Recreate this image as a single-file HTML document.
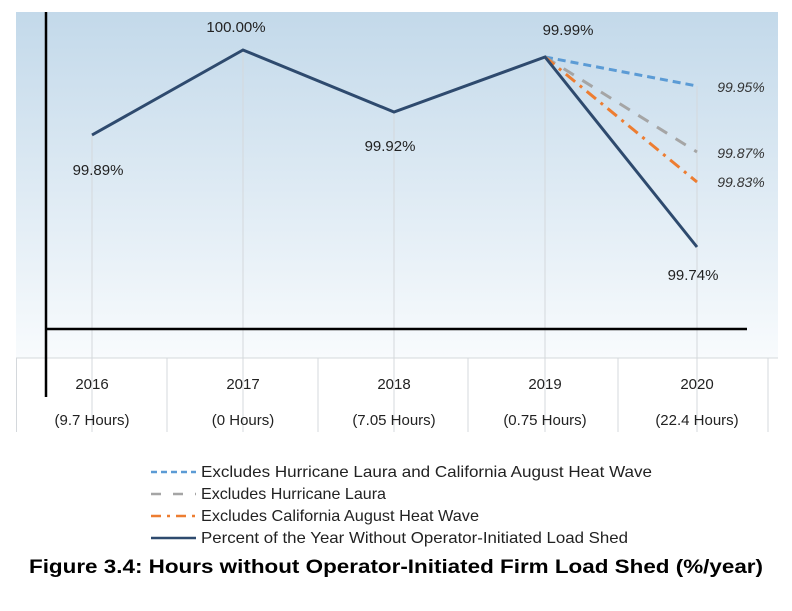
<!DOCTYPE html>
<html><head><style>body{margin:0;background:#fff}</style></head><body>
<svg width="792" height="606" viewBox="0 0 792 606" xmlns="http://www.w3.org/2000/svg" font-family="Liberation Sans, sans-serif">
<defs><linearGradient id="g" x1="0" y1="0" x2="0" y2="1"><stop offset="0" stop-color="#c3d9ea"/><stop offset="1" stop-color="#f8fbfd"/></linearGradient></defs>
<rect x="16" y="12" width="762" height="346" fill="url(#g)"/>
<g stroke="#d4d8dc" stroke-width="1">
<line x1="92" y1="135" x2="92" y2="432"/><line x1="243" y1="50" x2="243" y2="432"/><line x1="394" y1="112" x2="394" y2="432"/><line x1="545" y1="57" x2="545" y2="432"/><line x1="697" y1="86" x2="697" y2="432"/>
<line x1="16" y1="358" x2="778" y2="358"/>
<line x1="16.5" y1="358" x2="16.5" y2="432"/><line x1="167" y1="358" x2="167" y2="432"/><line x1="318" y1="358" x2="318" y2="432"/><line x1="468" y1="358" x2="468" y2="432"/><line x1="618" y1="358" x2="618" y2="432"/><line x1="768" y1="358" x2="768" y2="432"/>
</g>
<line x1="46" y1="12" x2="46" y2="397" stroke="#000" stroke-width="2.5"/>
<line x1="46" y1="329" x2="747" y2="329" stroke="#000" stroke-width="2.5"/>
<polyline points="545,57 697,86" fill="none" stroke="#5b9bd5" stroke-width="3" stroke-dasharray="8,5"/>
<polyline points="545,57 697,152" fill="none" stroke="#a5a5a5" stroke-width="3" stroke-dasharray="12,10"/>
<polyline points="545,57 697,182" fill="none" stroke="#ed7d31" stroke-width="3" stroke-dasharray="12,6,3,6"/>
<polyline points="92,135 243,50 394,112 545,57 697,247" fill="none" stroke="#2e4a6e" stroke-width="3"/>
<g font-size="15" fill="#222" text-anchor="middle">
<text x="236" y="32">100.00%</text><text x="568" y="35">99.99%</text><text x="98" y="175">99.89%</text><text x="390" y="151">99.92%</text><text x="693" y="280">99.74%</text>
</g>
<g font-size="14" fill="#333" font-style="italic" text-anchor="middle">
<text x="741" y="92">99.95%</text><text x="741" y="158">99.87%</text><text x="741" y="187">99.83%</text>
</g>
<g font-size="15" fill="#222" text-anchor="middle">
<text x="92" y="389">2016</text><text x="243" y="389">2017</text><text x="394" y="389">2018</text><text x="545" y="389">2019</text><text x="697" y="389">2020</text>
<text x="92" y="425">(9.7 Hours)</text><text x="243" y="425">(0 Hours)</text><text x="394" y="425">(7.05 Hours)</text><text x="545" y="425">(0.75 Hours)</text><text x="697" y="425">(22.4 Hours)</text>
</g>
<line x1="151" y1="472" x2="196" y2="472" stroke="#5b9bd5" stroke-width="2.5" stroke-dasharray="6,4"/>
<line x1="151" y1="494" x2="196" y2="494" stroke="#a5a5a5" stroke-width="2.5" stroke-dasharray="10,12"/>
<line x1="151" y1="516" x2="196" y2="516" stroke="#ed7d31" stroke-width="2.5" stroke-dasharray="10,6,3,6"/>
<line x1="151" y1="538" x2="196" y2="538" stroke="#2e4a6e" stroke-width="2.5"/>
<g font-size="16" fill="#222" lengthAdjust="spacingAndGlyphs">
<text x="201" y="477" textLength="451" lengthAdjust="spacingAndGlyphs">Excludes Hurricane Laura and California August Heat Wave</text>
<text x="201" y="499" textLength="185" lengthAdjust="spacingAndGlyphs">Excludes Hurricane Laura</text>
<text x="201" y="521" textLength="278" lengthAdjust="spacingAndGlyphs">Excludes California August Heat Wave</text>
<text x="201" y="543" textLength="427" lengthAdjust="spacingAndGlyphs">Percent of the Year Without Operator-Initiated Load Shed</text>
</g>
<text x="396" y="573" font-size="19" font-weight="bold" text-anchor="middle" fill="#000" textLength="734" lengthAdjust="spacingAndGlyphs">Figure 3.4: Hours without Operator-Initiated Firm Load Shed (%/year)</text>
</svg>
</body></html>
